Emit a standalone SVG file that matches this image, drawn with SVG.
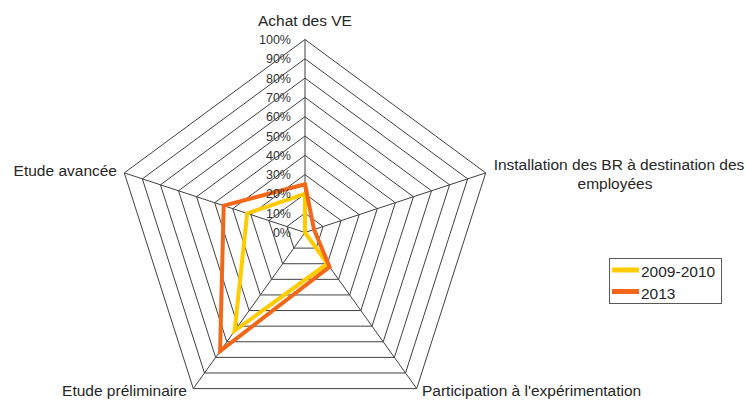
<svg xmlns="http://www.w3.org/2000/svg" width="746" height="401" viewBox="0 0 746 401">
<style>
.ring{fill:none;stroke:#404040;stroke-width:1}
.spoke{stroke:#404040;stroke-width:1}
.lbl{font-family:"Liberation Sans",Arial,sans-serif;font-size:15.5px;fill:#262626}
.pct{font-family:"Liberation Sans",Arial,sans-serif;font-size:12.5px;fill:#333333;text-anchor:end}
.s1{fill:none;stroke:#FFCC00;stroke-width:4;stroke-linejoin:miter}
.s2{fill:none;stroke:#F26818;stroke-width:4;stroke-linejoin:miter}
</style>
<rect width="746" height="401" fill="#ffffff"/>
<g id="grid">
<polygon class="ring" points="305,213.2 323.07,226.54 316.17,248.11 293.83,248.11 286.93,226.54"/>
<polygon class="ring" points="305,193.9 341.14,220.58 327.34,263.72 282.66,263.72 268.86,220.58"/>
<polygon class="ring" points="305,174.6 359.21,214.62 338.51,279.33 271.49,279.33 250.79,214.62"/>
<polygon class="ring" points="305,155.3 377.28,208.66 349.68,294.94 260.32,294.94 232.72,208.66"/>
<polygon class="ring" points="305,136 395.35,202.7 360.85,310.55 249.15,310.55 214.65,202.7"/>
<polygon class="ring" points="305,116.7 413.42,196.74 372.02,326.16 237.98,326.16 196.58,196.74"/>
<polygon class="ring" points="305,97.4 431.49,190.78 383.19,341.77 226.81,341.77 178.51,190.78"/>
<polygon class="ring" points="305,78.1 449.56,184.82 394.36,357.38 215.64,357.38 160.44,184.82"/>
<polygon class="ring" points="305,58.8 467.63,178.86 405.53,372.99 204.47,372.99 142.37,178.86"/>
<polygon class="ring" points="305,39.5 485.7,172.9 416.7,388.6 193.3,388.6 124.3,172.9"/>
</g>
<g id="connectors">
<line class="spoke" x1="305" y1="232.5" x2="305" y2="39.5"/>
<line class="spoke" x1="305" y1="232.5" x2="485.7" y2="172.9"/>
<line class="spoke" x1="305" y1="232.5" x2="416.7" y2="388.6"/>
<line class="spoke" x1="305" y1="232.5" x2="193.3" y2="388.6"/>
<line class="spoke" x1="305" y1="232.5" x2="124.3" y2="172.9"/>
</g>
<g id="series-2009-2010">
<polygon class="s1" points="305,193.9 305,232.5 327.34,263.72 234.63,330.84 247.18,213.43"/>
</g>
<g id="series-2013">
<polygon class="s2" points="305,184.25 314.04,229.52 329.57,266.84 220.11,351.14 223.68,205.68"/>
</g>
<g id="scale">
<text class="pct" x="291" y="44">100%</text>
<text class="pct" x="291" y="63.3">90%</text>
<text class="pct" x="291" y="82.6">80%</text>
<text class="pct" x="291" y="101.9">70%</text>
<text class="pct" x="291" y="121.2">60%</text>
<text class="pct" x="291" y="140.5">50%</text>
<text class="pct" x="291" y="159.8">40%</text>
<text class="pct" x="291" y="179.1">30%</text>
<text class="pct" x="291" y="198.4">20%</text>
<text class="pct" x="291" y="217.7">10%</text>
<text class="pct" x="291" y="237">0%</text>
</g>
<g id="axis-achat"><text class="lbl" x="305" y="26" text-anchor="middle">Achat des VE</text></g>
<g id="axis-installation"><text class="lbl" x="619" y="170" text-anchor="middle">Installation des BR à destination des</text><text class="lbl" x="615" y="189" text-anchor="middle">employées</text></g>
<g id="axis-participation"><text class="lbl" x="422" y="396">Participation à l'expérimentation</text></g>
<g id="axis-preliminaire"><text class="lbl" x="187" y="396" text-anchor="end">Etude préliminaire</text></g>
<g id="axis-avancee"><text class="lbl" x="117" y="176" text-anchor="end">Etude avancée</text></g>
<g id="legend">
<rect x="609.5" y="258.5" width="112" height="45" fill="#ffffff" stroke="#595959" stroke-width="1"/>
<line x1="612" y1="270" x2="639" y2="270" stroke="#FFCC00" stroke-width="5"/>
<line x1="612" y1="291.5" x2="639" y2="291.5" stroke="#F26818" stroke-width="5"/>
<text class="lbl" x="641" y="277">2009-2010</text>
<text class="lbl" x="641" y="298.5">2013</text>
</g>
</svg>
